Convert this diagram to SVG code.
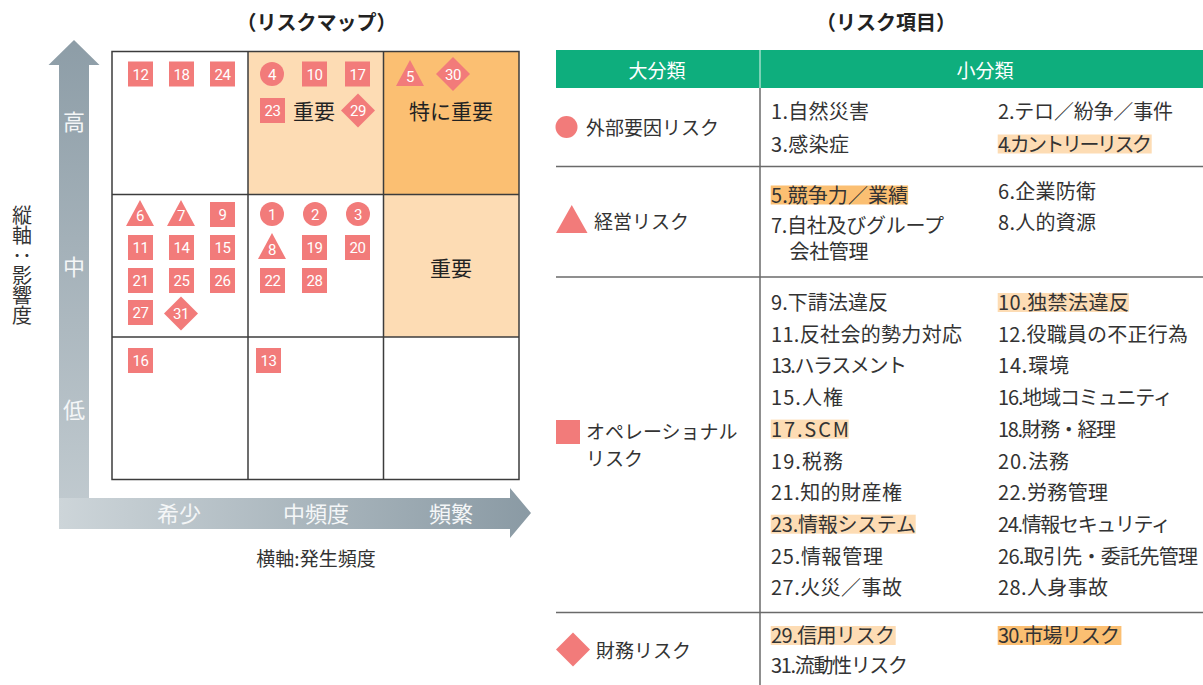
<svg xmlns="http://www.w3.org/2000/svg" width="1203" height="685" viewBox="0 0 1203 685">
<defs>
<linearGradient id="gv" gradientUnits="userSpaceOnUse" x1="0" y1="40" x2="0" y2="529">
<stop offset="0" stop-color="#8d9da7"/><stop offset="1" stop-color="#c3ccd1"/>
</linearGradient>
<linearGradient id="gh" gradientUnits="userSpaceOnUse" x1="59" y1="0" x2="531" y2="0">
<stop offset="0" stop-color="#cdd5d9"/><stop offset="1" stop-color="#8a9aa4"/>
</linearGradient>
<style>
text{font-family:"Noto Sans CJK JP","Noto Sans",sans-serif;}
.m{fill:#f27b7a;}
.mt{fill:#fff;font-family:Roboto,"Liberation Sans",sans-serif;font-size:15px;text-anchor:middle;letter-spacing:-0.5px;}
.ax{fill:#f4f6f7;font-size:22px;text-anchor:middle;}
.cl{fill:#222;font-size:21px;text-anchor:middle;}
.it{fill:#333;font-size:20px;}
.lg{fill:#333;font-size:19px;}
.hl{fill:#fddcb4;}
.hd{fill:#fbbf72;}
.gl{stroke:#3c3c3c;stroke-width:1.5;fill:none;}
.tl{stroke:#6a6a6a;stroke-width:1.5;fill:none;}
.ttl{fill:#222;font-size:20px;font-weight:bold;text-anchor:middle;}
</style>
</defs>
<rect width="1203" height="685" fill="#fff"/>

<g id="titles">
<text class="ttl" x="316.5" y="30">（リスクマップ）</text>
<text class="ttl" x="886" y="30">（リスク項目）</text>
</g>

<g id="axes">
<polygon points="74,40 99.5,65 89,65 89,498 59,498 59,65 48.5,65" fill="url(#gv)"/>
<polygon points="59,498 510,498 510,488 531,513 510,538 510,529 59,529" fill="url(#gh)"/>
<text class="ax" x="74" y="130">高</text>
<text class="ax" x="74" y="275">中</text>
<text class="ax" x="74" y="418">低</text>
<text class="ax" x="179" y="522">希少</text>
<text class="ax" x="316" y="522">中頻度</text>
<text class="ax" x="451" y="522">頻繁</text>
<text x="22" y="205" fill="#333" font-size="20" style="writing-mode:vertical-rl">縦軸：影響度</text>
<text x="316" y="566" fill="#333" font-size="19" text-anchor="middle">横軸:発生頻度</text>
</g>

<g id="grid">
<rect x="248" y="51.5" width="135.5" height="143" fill="#fddcb4"/>
<rect x="383.5" y="51.5" width="135.5" height="143" fill="#fbbf72"/>
<rect x="383.5" y="194.5" width="135.5" height="142.5" fill="#fddcb4"/>
<rect class="gl" x="112" y="51.5" width="407" height="428"/>
<line class="gl" x1="248" y1="51.5" x2="248" y2="479.5"/>
<line class="gl" x1="383.5" y1="51.5" x2="383.5" y2="479.5"/>
<line class="gl" x1="112" y1="194.5" x2="519" y2="194.5"/>
<line class="gl" x1="112" y1="337" x2="519" y2="337"/>
<text class="cl" x="314" y="119">重要</text>
<text class="cl" x="451" y="119">特に重要</text>
<text class="cl" x="451" y="276">重要</text>
</g>

<g id="markers">
<g id="r12"><rect class="m" x="128" y="61.5" width="25" height="25"/><text class="mt" x="140.5" y="79.5">12</text></g>
<g id="r18"><rect class="m" x="169" y="61.5" width="25" height="25"/><text class="mt" x="181.5" y="79.5">18</text></g>
<g id="r24"><rect class="m" x="210" y="61.5" width="25" height="25"/><text class="mt" x="222.5" y="79.5">24</text></g>
<g id="r4"><circle class="m" cx="272" cy="74" r="12"/><text class="mt" x="272" y="79.5">4</text></g>
<g id="r10"><rect class="m" x="302" y="61.5" width="25" height="25"/><text class="mt" x="314.5" y="79.5">10</text></g>
<g id="r17"><rect class="m" x="345" y="61.5" width="25" height="25"/><text class="mt" x="357.5" y="79.5">17</text></g>
<g id="r23"><rect class="m" x="260" y="98" width="25" height="25"/><text class="mt" x="272.5" y="116">23</text></g>
<g id="r29"><polygon class="m" points="358,93.5 375,110.5 358,127.5 341,110.5"/><text class="mt" x="358" y="116">29</text></g>
<g id="r5"><polygon class="m" points="410,60 424,86 396,86"/><text class="mt" x="410" y="81.5">5</text></g>
<g id="r30"><polygon class="m" points="453,57 470,74 453,91 436,74"/><text class="mt" x="453" y="79.5">30</text></g>

<g id="r6"><polygon class="m" points="140,200 154,226 126,226"/><text class="mt" x="140" y="221">6</text></g>
<g id="r7"><polygon class="m" points="181,200 195,226 167,226"/><text class="mt" x="181" y="221">7</text></g>
<g id="r9"><rect class="m" x="210" y="202" width="25" height="25"/><text class="mt" x="222.5" y="220">9</text></g>
<g id="r1"><circle class="m" cx="272" cy="214" r="12"/><text class="mt" x="272" y="219.5">1</text></g>
<g id="r2"><circle class="m" cx="315" cy="214" r="12"/><text class="mt" x="315" y="219.5">2</text></g>
<g id="r3"><circle class="m" cx="358" cy="214" r="12"/><text class="mt" x="358" y="219.5">3</text></g>
<g id="r11"><rect class="m" x="128" y="235" width="25" height="25"/><text class="mt" x="140.5" y="253">11</text></g>
<g id="r14"><rect class="m" x="169" y="235" width="25" height="25"/><text class="mt" x="181.5" y="253">14</text></g>
<g id="r15"><rect class="m" x="210" y="235" width="25" height="25"/><text class="mt" x="222.5" y="253">15</text></g>
<g id="r8"><polygon class="m" points="272,233 286,259 258,259"/><text class="mt" x="272" y="254.5">8</text></g>
<g id="r19"><rect class="m" x="302" y="235" width="25" height="25"/><text class="mt" x="314.5" y="253">19</text></g>
<g id="r20"><rect class="m" x="345" y="235" width="25" height="25"/><text class="mt" x="357.5" y="253">20</text></g>
<g id="r21"><rect class="m" x="128" y="268" width="25" height="25"/><text class="mt" x="140.5" y="286">21</text></g>
<g id="r25"><rect class="m" x="169" y="268" width="25" height="25"/><text class="mt" x="181.5" y="286">25</text></g>
<g id="r26"><rect class="m" x="210" y="268" width="25" height="25"/><text class="mt" x="222.5" y="286">26</text></g>
<g id="r22"><rect class="m" x="260" y="268" width="25" height="25"/><text class="mt" x="272.5" y="286">22</text></g>
<g id="r28"><rect class="m" x="302" y="268" width="25" height="25"/><text class="mt" x="314.5" y="286">28</text></g>
<g id="r27"><rect class="m" x="128" y="300" width="25" height="25"/><text class="mt" x="140.5" y="318">27</text></g>
<g id="r31"><polygon class="m" points="181,296.5 198,313.5 181,330.5 164,313.5"/><text class="mt" x="181" y="319">31</text></g>

<g id="r16"><rect class="m" x="128" y="348" width="25" height="25"/><text class="mt" x="140.5" y="366">16</text></g>
<g id="r13"><rect class="m" x="256" y="348" width="25" height="25"/><text class="mt" x="268.5" y="366">13</text></g>
</g>

<g id="table-header">
<rect x="556" y="50" width="647" height="38" fill="#0eae7d"/>
<line x1="760" y1="50" x2="760" y2="88" stroke="#e8f6f0" stroke-width="1"/>
<text x="657" y="78" fill="#fff" font-size="19" text-anchor="middle">大分類</text>
<text x="985" y="78" fill="#fff" font-size="19" text-anchor="middle">小分類</text>
</g>

<g id="table-lines">
<line class="tl" x1="760" y1="88" x2="760" y2="685"/>
<line class="tl" x1="556" y1="166.5" x2="1203" y2="166.5"/>
<line class="tl" x1="556" y1="277" x2="1203" y2="277"/>
<line class="tl" x1="556" y1="612.5" x2="1203" y2="612.5"/>
</g>

<g id="cat-external">
<circle class="m" cx="566.5" cy="127" r="11"/>
<text class="lg" x="586" y="134.5">外部要因リスク</text>
<rect class="hl" x="997.7" y="134.5" width="154" height="19"/>
<text class="it" x="771" y="119" textLength="98">1.自然災害</text>
<text class="it" x="998" y="119" textLength="175">2.テロ／紛争／事件</text>
<text class="it" x="771" y="151.5" textLength="78">3.感染症</text>
<text class="it" x="998" y="151.5" textLength="154">4.カントリーリスク</text>
</g>

<g id="cat-management">
<polygon class="m" points="571.75,205 587.5,233 556,233"/>
<text class="lg" x="594" y="229">経営リスク</text>
<rect class="hd" x="770.7" y="185.5" width="137.4" height="19"/>
<text class="it" x="771" y="202.5" textLength="137">5.競争力／業績</text>
<text class="it" x="998" y="199" textLength="98">6.企業防衛</text>
<text class="it" x="771" y="232.5" textLength="173">7.自社及びグループ</text>
<text class="it" x="789.5" y="259" textLength="79">会社管理</text>
<text class="it" x="998" y="230" textLength="98">8.人的資源</text>
</g>

<g id="cat-operational">
<rect class="m" x="556" y="420" width="24" height="24"/>
<text class="lg" x="586" y="439">オペレーショナル</text>
<text class="lg" x="586" y="466">リスク</text>
<rect class="hl" x="997.7" y="293" width="131.2" height="19"/>
<rect class="hl" x="770.7" y="419.6" width="78" height="19"/>
<rect class="hl" x="770.7" y="514.7" width="145" height="19"/>
<text class="it" x="771" y="310" textLength="117">9.下請法違反</text>
<text class="it" x="998" y="310" textLength="131">10.独禁法違反</text>
<text class="it" x="771" y="341.7" textLength="191">11.反社会的勢力対応</text>
<text class="it" x="998" y="341.7" textLength="190">12.役職員の不正行為</text>
<text class="it" x="771" y="373.4" textLength="136">13.ハラスメント</text>
<text class="it" x="998" y="373.4" textLength="71">14.環境</text>
<text class="it" x="771" y="405.1" textLength="72">15.人権</text>
<text class="it" x="998" y="405.1" textLength="175">16.地域コミュニティ</text>
<text class="it" x="771" y="436.8" textLength="78">17.SCM</text>
<text class="it" x="998" y="436.8" textLength="118">18.財務・経理</text>
<text class="it" x="771" y="468.5" textLength="72">19.税務</text>
<text class="it" x="998" y="468.5" textLength="71">20.法務</text>
<text class="it" x="771" y="500.2" textLength="131">21.知的財産権</text>
<text class="it" x="998" y="500.2" textLength="110">22.労務管理</text>
<text class="it" x="771" y="531.9" textLength="145">23.情報システム</text>
<text class="it" x="998" y="531.9" textLength="173">24.情報セキュリティ</text>
<text class="it" x="771" y="563.6" textLength="112">25.情報管理</text>
<text class="it" x="998" y="563.6" textLength="200">26.取引先・委託先管理</text>
<text class="it" x="771" y="595.3" textLength="131">27.火災／事故</text>
<text class="it" x="998" y="595.3" textLength="110">28.人身事故</text>
</g>

<g id="cat-financial">
<polygon class="m" points="573,632.5 590,649.5 573,666.5 556,649.5"/>
<text class="lg" x="596" y="658">財務リスク</text>
<rect class="hl" x="770.7" y="626" width="125" height="19"/>
<rect class="hd" x="997.7" y="626" width="123.7" height="19"/>
<text class="it" x="771" y="643" textLength="124">29.信用リスク</text>
<text class="it" x="998" y="643" textLength="122">30.市場リスク</text>
<text class="it" x="771" y="672.5" textLength="137">31.流動性リスク</text>
</g>
</svg>
